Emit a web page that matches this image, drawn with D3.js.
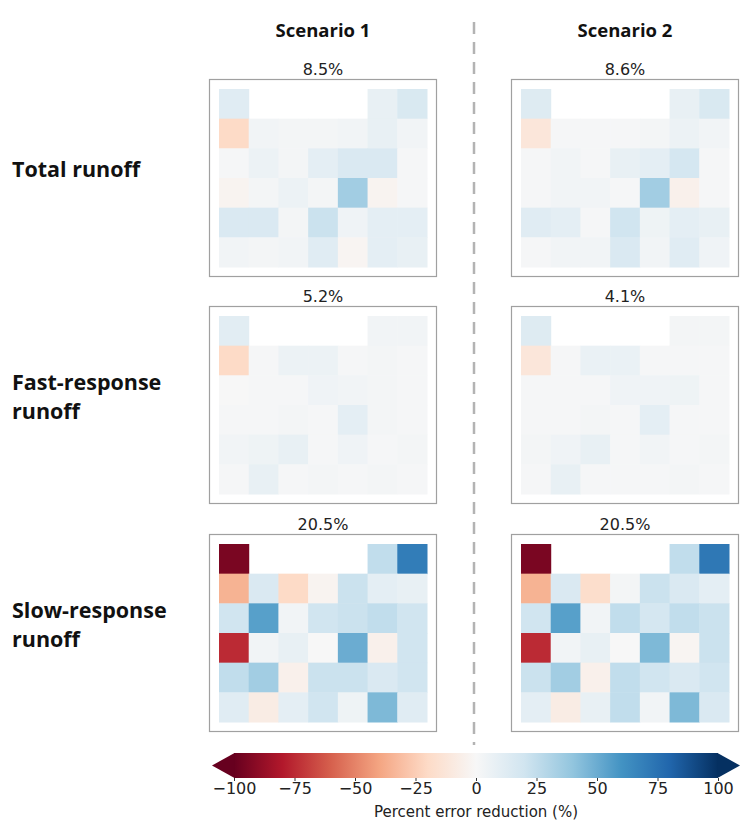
<!DOCTYPE html>
<html>
<head>
<meta charset="utf-8">
<script src="https://cdn.jsdelivr.net/npm/d3@7"></script>
<style>
  html, body { margin: 0; padding: 0; background: #fff; }
  svg { display: block; }
</style>
</head>
<body>
<svg id="chart" width="740" height="821"></svg>
<script>
// ---- DATA ----
const scenarios = ["Scenario 1", "Scenario 2"];
const components = [["Total runoff"], ["Fast-response", "runoff"], ["Slow-response", "runoff"]];
const panelLabels = [["8.5%", "8.6%"], ["5.2%", "4.1%"], ["20.5%", "20.5%"]];
const colorTicks = [-100, -75, -50, -25, 0, 25, 50, 75, 100];
const colorbarLabel = "Percent error reduction (%)";
const gridCols = [0, 1, 2, 3, 4, 5, 6];
const gridRows = [0, 1, 2, 3, 4, 5];
// matplotlib RdBu anchor colours
const rdbuColors = ["#67001f", "#b2182b", "#d6604d", "#f4a582", "#fddbc7", "#f7f7f7",
                    "#d1e5f0", "#92c5de", "#4393c3", "#2166ac", "#053061"];

// rows top to bottom, null = no data
const totalS1 = [
  [12, null, null, null, null, 8, 16],
  [-20, 3, 2, 2, 3, 8, 3],
  [1, 6, 2, 10, 15, 15, 1],
  [-3, 2, 6, 2, 35, -3, 1],
  [15, 15, 2, 22, 4, 10, 10],
  [3, 2, 3, 12, -2, 10, 8]
];
const totalS2 = [
  [13, null, null, null, null, 8, 16],
  [-12, 1, 1, 1, 2, 6, 3],
  [1, 3, 1, 8, 10, 18, 1],
  [1, 3, 3, 1, 35, -5, 1],
  [12, 10, 1, 20, 5, 10, 8],
  [1, 3, 3, 15, 3, 12, 4]
];
const fastS1 = [
  [11, null, null, null, null, 3, 3],
  [-20, 1, 6, 6, 1, 2, 1],
  [0, 1, 1, 4, 3, 2, 1],
  [1, 1, 2, 1, 10, 2, 1],
  [3, 5, 8, 1, 4, 1, 2],
  [1, 8, 1, 2, 1, 2, 1]
];
const fastS2 = [
  [13, null, null, null, null, 2, 2],
  [-12, 1, 7, 7, 1, 1, 1],
  [1, 1, 1, 4, 4, 5, 1],
  [1, 1, 2, 1, 10, 1, 1],
  [2, 4, 8, 1, 3, 1, 2],
  [1, 8, 1, 1, 1, 2, 1]
];
const slowS1 = [
  [-95, null, null, null, null, 25, 70],
  [-35, 15, -20, -3, 22, 10, 8],
  [20, 55, 3, 20, 22, 25, 20],
  [-75, 3, 8, 0, 50, -5, 20],
  [25, 35, -5, 22, 22, 15, 20],
  [12, -8, 10, 20, 5, 45, 12]
];
const slowS2 = [
  [-95, null, null, null, null, 25, 72],
  [-35, 15, -18, 2, 22, 15, 10],
  [20, 55, 3, 25, 18, 25, 22],
  [-75, 3, 8, 0, 45, -2, 22],
  [22, 35, -5, 25, 20, 15, 20],
  [10, -8, 8, 25, 3, 45, 15]
];
const panelData = [[totalS1, totalS2], [fastS1, fastS2], [slowS1, slowS2]];

// ---- LAYOUT ----
const svg = d3.select("#chart");
const rdbu = d3.piecewise(d3.interpolateRgb, rdbuColors);
const color = d3.scaleSequential(rdbu).domain([-100, 100]);

const colX = d3.scaleOrdinal().domain([0, 1]).range([209, 511]);
const rowY = d3.scaleOrdinal().domain([0, 1, 2]).range([79, 306, 534]);
const boxW = 228, boxH = 198, pad = 10;
const gridW = 208, gridH = 178;

const xCell = d3.scaleBand().domain(gridCols).range([0, gridW]);
const yCell = d3.scaleBand().domain(gridRows).range([0, gridH]);

// dashed divider
svg.append("line")
  .attr("x1", 474).attr("x2", 474).attr("y1", 22).attr("y2", 745)
  .attr("stroke", "#b3b3b3").attr("stroke-width", 2.5)
  .attr("stroke-dasharray", "12,8");

// column titles
scenarios.forEach((s, i) => {
  svg.append("text")
    .attr("x", colX(i) + boxW / 2).attr("y", 37)
    .attr("text-anchor", "middle")
    .attr("font-family", "'Open Sans', sans-serif")
    .attr("font-weight", "bold").attr("font-size", 18.5)
    .attr("fill", "#111")
    .text(s);
});

// row labels
components.forEach((lines, r) => {
  const centerY = rowY(r) + boxH / 2 - 9;
  const n = lines.length;
  lines.forEach((ln, k) => {
    svg.append("text")
      .attr("x", 12)
      .attr("y", centerY + (k - (n - 1) / 2) * 29 + 8)
      .attr("font-family", "'Open Sans', sans-serif")
      .attr("font-weight", "bold").attr("font-size", 21.5)
      .attr("fill", "#111")
      .text(ln);
  });
});

// panels
panelData.forEach((rowPanels, r) => {
  rowPanels.forEach((grid, c) => {
    const g = svg.append("g").attr("transform", `translate(${colX(c)},${rowY(r)})`);
    const cells = [];
    grid.forEach((row, ri) => row.forEach((v, ci) => {
      if (v !== null) cells.push({ r: ri, c: ci, v: v });
    }));
    const inner = g.append("g").attr("transform", `translate(${pad},${pad})`);
    inner.selectAll("rect").data(cells).join("rect")
      .attr("x", d => xCell(d.c))
      .attr("y", d => yCell(d.r))
      .attr("width", xCell.bandwidth() + 0.5)
      .attr("height", yCell.bandwidth() + 0.5)
      .attr("fill", d => color(d.v));
    g.append("rect")
      .attr("x", 0.5).attr("y", 0.5)
      .attr("width", boxW - 1).attr("height", boxH - 1)
      .attr("fill", "none").attr("stroke", "#a0a0a0").attr("stroke-width", 1.2);
    g.append("text")
      .attr("x", boxW / 2).attr("y", -4)
      .attr("text-anchor", "middle")
      .attr("font-family", "'DejaVu Sans', sans-serif")
      .attr("font-size", 16).attr("fill", "#222")
      .text(panelLabels[r][c]);
  });
});

// colorbar
const cbX = d3.scaleLinear().domain([-100, 100]).range([234, 718]);
const cbY = 753, cbH = 25, tri = 22;
const defs = svg.append("defs");
const grad = defs.append("linearGradient").attr("id", "cbgrad")
  .attr("x1", "0%").attr("x2", "100%").attr("y1", "0%").attr("y2", "0%");
d3.range(0, 1.0001, 0.05).forEach(t => {
  grad.append("stop").attr("offset", (t * 100) + "%").attr("stop-color", rdbu(t));
});
const cb = svg.append("g");
cb.append("rect")
  .attr("x", cbX(-100)).attr("y", cbY)
  .attr("width", cbX(100) - cbX(-100)).attr("height", cbH)
  .attr("fill", "url(#cbgrad)");
cb.append("path")
  .attr("d", `M${cbX(-100) + 0.5},${cbY} L${cbX(-100) - tri},${cbY + cbH / 2} L${cbX(-100) + 0.5},${cbY + cbH} Z`)
  .attr("fill", color(-100));
cb.append("path")
  .attr("d", `M${cbX(100) - 0.5},${cbY} L${cbX(100) + tri},${cbY + cbH / 2} L${cbX(100) - 0.5},${cbY + cbH} Z`)
  .attr("fill", color(100));
const axis = d3.axisBottom(cbX).tickValues(colorTicks).tickSize(3).tickPadding(2);
const ax = cb.append("g").attr("transform", `translate(0,${cbY + cbH})`).call(axis);
ax.select(".domain").remove();
ax.selectAll("line").attr("stroke", "#333");
ax.selectAll("text")
  .attr("font-family", "'DejaVu Sans', sans-serif")
  .attr("font-size", 16).attr("fill", "#222");
svg.append("text")
  .attr("x", cbX(0)).attr("y", 817)
  .attr("text-anchor", "middle")
  .attr("font-family", "'DejaVu Sans', sans-serif")
  .attr("font-size", 15).attr("fill", "#222")
  .text(colorbarLabel);
</script>
</body>
</html>
